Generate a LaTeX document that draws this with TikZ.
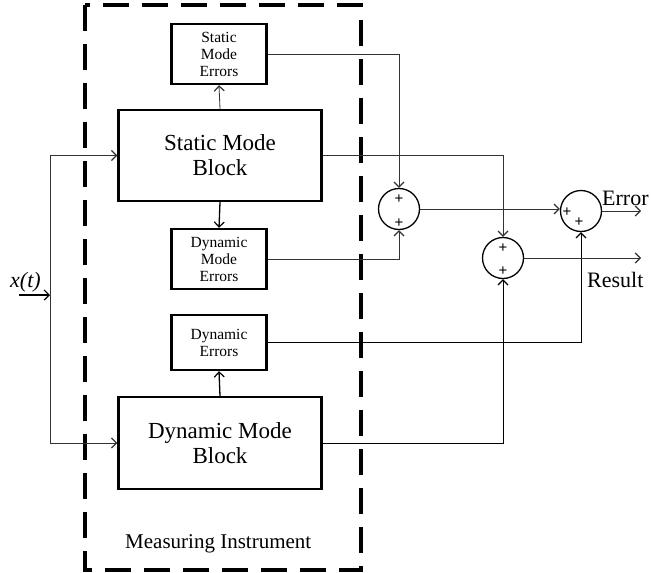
\documentclass[tikz,border=0pt]{standalone}
\usepackage{fontspec}
\setmainfont{Liberation Serif}
\newfontfamily\plusfont{Liberation Sans}
\usetikzlibrary{arrows.meta}
\begin{document}
\begin{tikzpicture}[x=1pt,y=-1pt,
  blk/.style={draw, line width=2.4pt, rectangle, align=center, inner sep=0pt},
  bigblk/.style={blk, minimum width=203pt, minimum height=91pt, font=\fontsize{23}{25}\selectfont},
  errblk/.style={blk, minimum width=95pt, font=\fontsize{15.5}{17}\selectfont},
  sumnode/.style={draw, circle, line width=1.3pt, minimum size=41pt, inner sep=0pt},
  wire/.style={line width=0.8pt, draw=black!80},
  arr/.style={wire, -{Straight Barb[length=5pt,width=10pt,line width=1.2pt]}},
  plus/.style={font=\plusfont\fontsize{15}{15}\selectfont, inner sep=0pt},
  lbl/.style={font=\fontsize{22}{24}\selectfont, inner sep=0pt}
]
\useasboundingbox (0,0) rectangle (651,573);

% boundary of the instrument
\draw[line width=3.2pt, dash pattern=on 26pt off 13pt] (85,5) rectangle (361,570);
\node[lbl, font=\fontsize{21}{24}\selectfont, anchor=base west] (mi) at (125,548) {Measuring Instrument};

% blocks
\node[errblk, minimum height=60pt] (sme) at (219,54) {Static\\Mode\\Errors};
\node[bigblk] (smb) at (220,155.5) {Static Mode\\Block};
\node[errblk, minimum height=60pt] (dme) at (219,259) {Dynamic\\Mode\\Errors};
\node[errblk, minimum height=55pt] (de) at (219,342.5) {Dynamic\\Errors};
\node[bigblk, minimum height=92pt] (dmb) at (220,443) {Dynamic Mode\\Block};

% summing junctions
\node[sumnode] (s1) at (399,209) {};
\node[sumnode] (s2) at (503,258) {};
\node[sumnode] (s3) at (581,211) {};
\node[plus] (p1a) at (399,199) {+};
\node[plus] (p1b) at (399,223) {+};
\node[plus] (p2a) at (503,248) {+};
\node[plus] (p2b) at (503,271) {+};
\node[plus] (p3a) at (567,212) {+};
\node[plus] (p3b) at (579,222) {+};

% input
\coordinate (xin) at (19,295);
\coordinate (split) at (50,295);
\coordinate (splittop) at (50,155.5);
\coordinate (splitbot) at (50,443);
\node[lbl, font=\fontsize{22}{24}\selectfont\itshape, anchor=base west] (xt) at (10,287) {x(t)};
\draw[arr, line width=1.3pt, draw=black] (xin) -- (split);
\draw[wire] (splittop) -- (splitbot);
\draw[arr] (splittop) -- (smb.west);
\draw[arr] (splitbot) -- (dmb.west);

% internal arrows
\draw[arr] (smb.north) -- (sme.south);
\draw[arr, line width=1.3pt, draw=black] (smb.south) -- (dme.north);
\draw[arr, line width=1.3pt, draw=black] (dmb.north) -- (de.south);

% error paths
\draw[arr] (sme.east) -| (s1.north);
\draw[arr] (dme.east) -| (s1.south);
\draw[arr] (smb.east) -| (s2.north);
\draw[arr, line width=1pt, draw=black] (dmb.east) -| (s2.south);
\draw[arr, line width=1pt, draw=black] (de.east) -| (s3.south);
\draw[arr] (s1.east) -- (s1.east -| s3.west);

% outputs
\coordinate (errout) at (641,211);
\coordinate (resout) at (641,258);
\draw[arr] (s3.east) -- (errout);
\draw[arr] (s2.east) -- (resout);
\node[lbl, anchor=base west] (errl) at (602,205) {Error};
\node[lbl, anchor=base west] (resl) at (587,287) {Result};
\end{tikzpicture}
\end{document}
